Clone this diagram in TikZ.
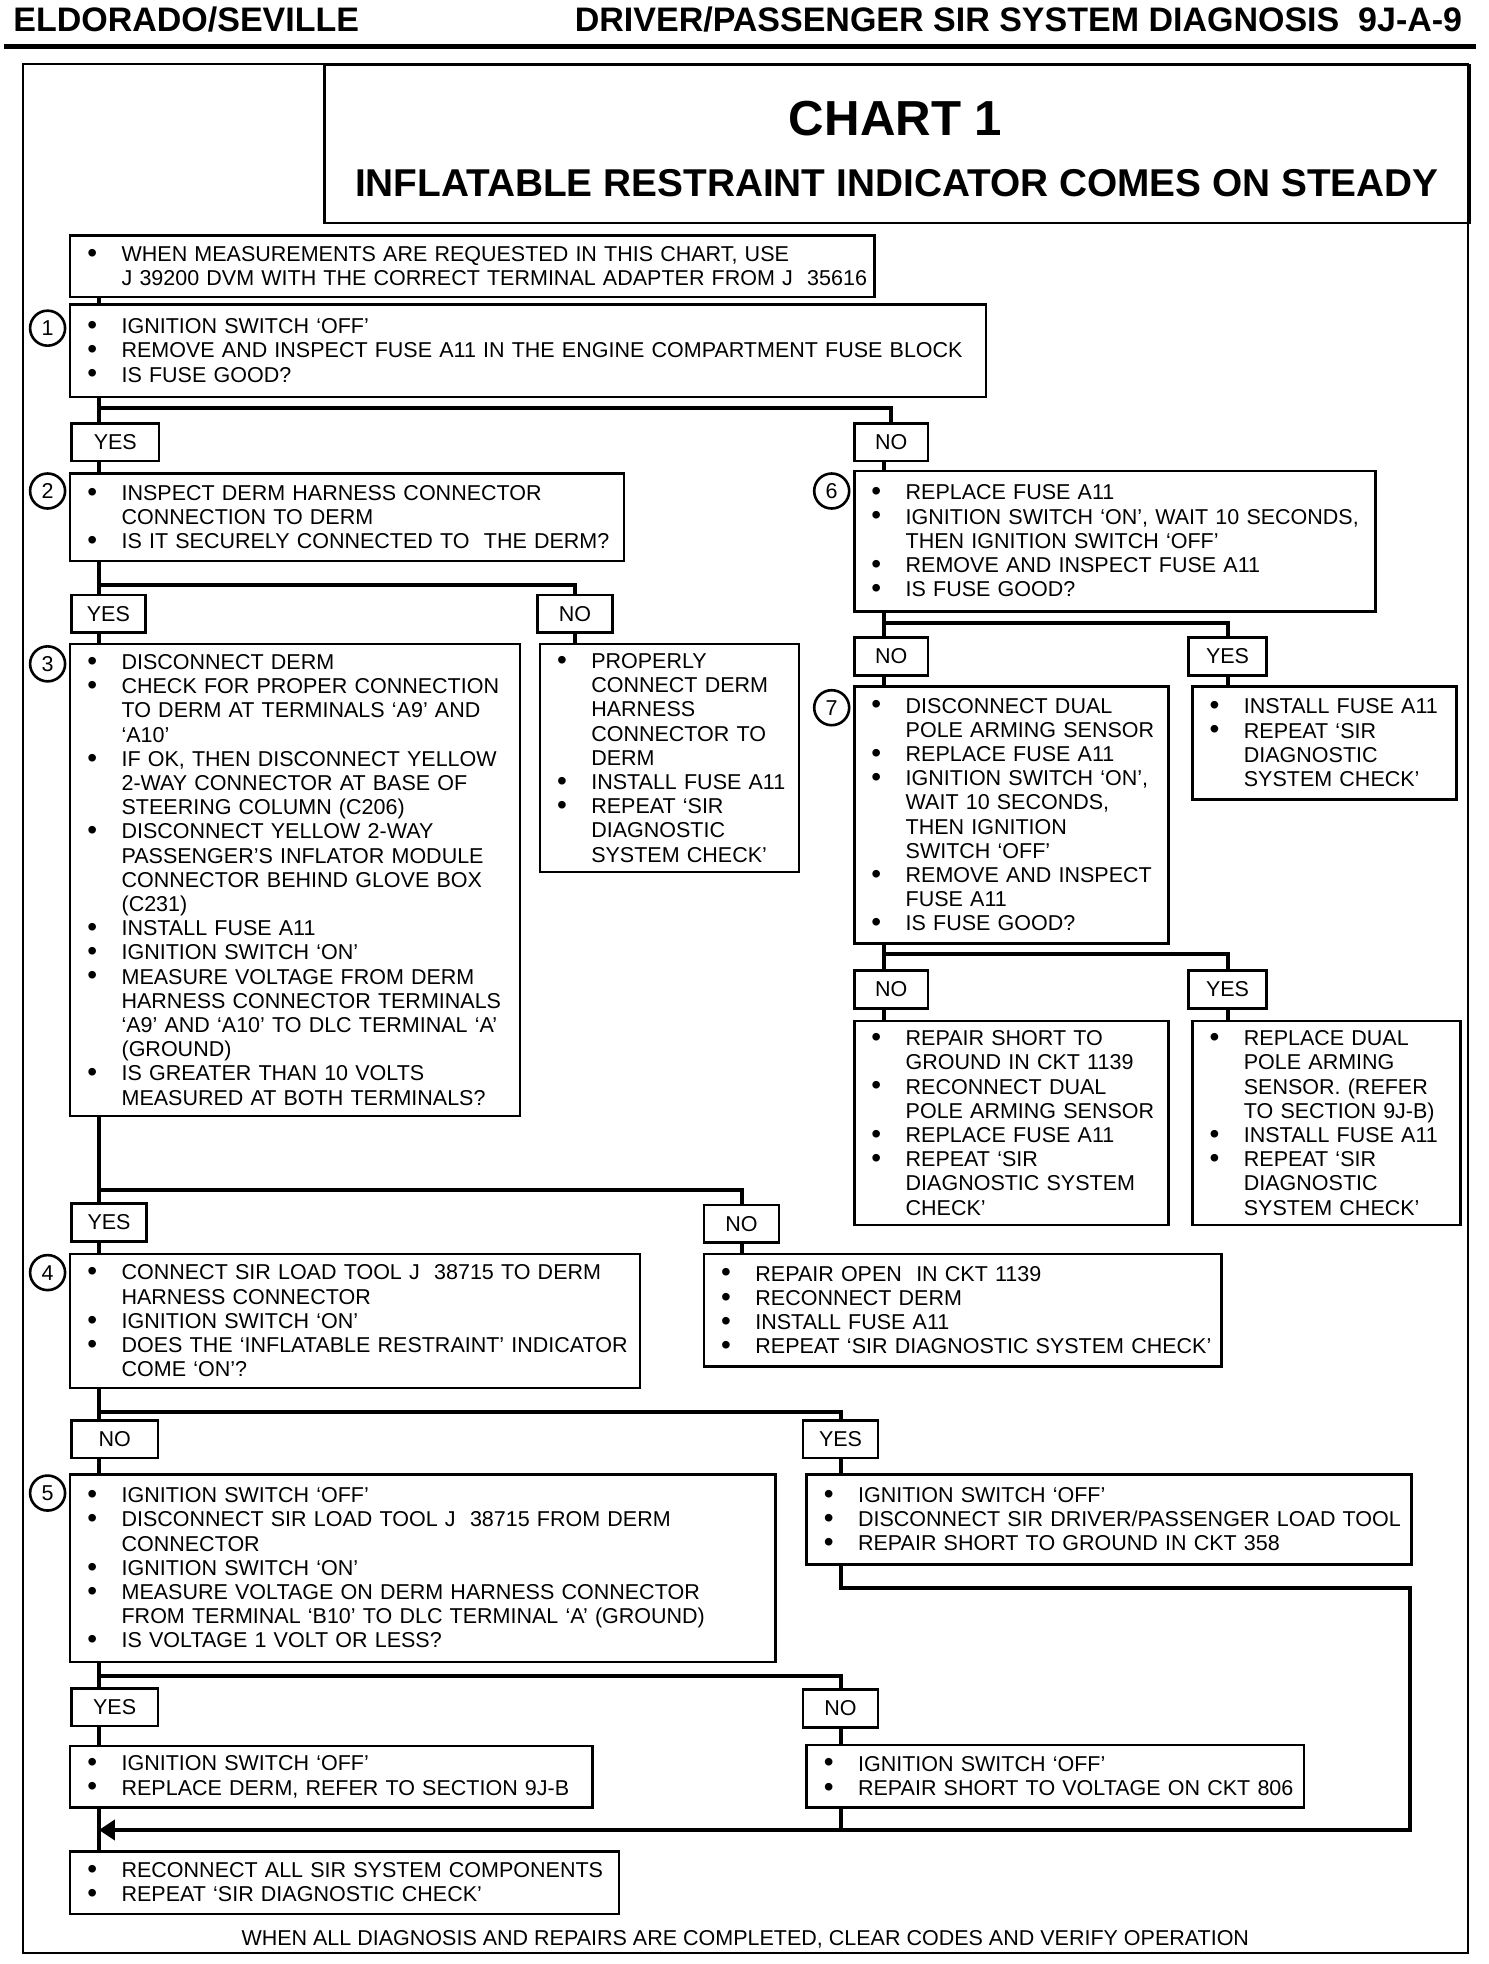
\documentclass[tikz,border=0pt]{standalone}
\usepackage{fontspec}
\setmainfont{Liberation Sans}
\usetikzlibrary{arrows.meta, positioning, calc}
\newcommand{\isi}{\fontsize{10.75}{12.1}\selectfont}
\newcommand{\itm}{\hspace*{6.6pt}\makebox[17.1pt][l]{\raisebox{-0.4pt}{\fontsize{14}{12}\selectfont\textbullet}}}
\newcommand{\ctn}{\hspace*{23.7pt}}

\begin{document}
\begin{tikzpicture}[
    x=0.62626pt, y=-0.62626pt,
    font=\isi,
    kotak/.style={draw, line width=1.3pt, anchor=north west, align=left,
                  inner xsep=2pt, inner ysep=0pt},
    pil/.style={draw, line width=1.3pt, anchor=north west, minimum height=18.8pt,
                inner sep=0pt},
    nomor/.style={circle, draw, line width=1.3pt, minimum size=17.5pt, inner sep=0pt},
    garis/.style={line width=2pt},
    kepala/.style={font=\fontsize{17}{20}\selectfont\bfseries}
  ]
    \useasboundingbox (0,0) rectangle (1188,1568);

    \node[kepala, anchor=base west] (kiri) at (5,25.5) {ELDORADO/SEVILLE};
    \node[kepala, anchor=base east] (kanan) at (1173,25.5)
      {DRIVER/PASSENGER SIR SYSTEM DIAGNOSIS\ \ 9J-A-9};
    \draw[line width=2.8pt] (3,37) -- (1178,37);
    \draw[line width=1pt] (18,51) rectangle (1172,1559);

    \node[draw, line width=1.3pt, anchor=north west, minimum width=572.4pt,
          minimum height=78.9pt] (judul) at (258,51) {};
    \node[font=\fontsize{24.6}{28}\selectfont\bfseries] (chart) at (715,95) {CHART 1};
    \node[font=\fontsize{19.4}{23}\selectfont\bfseries] (subjudul) at (716,146)
      {INFLATABLE RESTRAINT INDICATOR COMES ON STEADY};

    \node[kotak, text width=398.1pt, minimum height=30.7pt] (b0) at (55,187)
      {\itm WHEN MEASUREMENTS ARE REQUESTED IN THIS CHART, USE\\
       \ctn J 39200 DVM WITH THE CORRECT TERMINAL ADAPTER FROM J\ \ 35616};
    \node[kotak, text width=453.8pt, minimum height=46.3pt] (b1) at (55,242)
      {\itm IGNITION SWITCH `OFF'\\
       \itm REMOVE AND INSPECT FUSE A11 IN THE ENGINE COMPARTMENT FUSE BLOCK\\
       \itm IS FUSE GOOD?};
    \node[kotak, text width=272.8pt, minimum height=43.8pt] (b2) at (55,377)
      {\itm INSPECT DERM HARNESS CONNECTOR\\
       \ctn CONNECTION TO DERM\\
       \itm IS IT SECURELY CONNECTED TO\ \ THE DERM?};
    \node[kotak, text width=256.5pt, minimum height=70.1pt] (b6) at (681,375)
      {\itm REPLACE FUSE A11\\
       \itm IGNITION SWITCH `ON', WAIT 10 SECONDS,\\
       \ctn THEN IGNITION SWITCH `OFF'\\
       \itm REMOVE AND INSPECT FUSE A11\\
       \itm IS FUSE GOOD?};
    \node[kotak, text width=220.8pt, minimum height=236.1pt] (b3) at (55,513)
      {\itm DISCONNECT DERM\\
       \itm CHECK FOR PROPER CONNECTION\\
       \ctn TO DERM AT TERMINALS `A9' AND\\
       \ctn `A10'\\
       \itm IF OK, THEN DISCONNECT YELLOW\\
       \ctn 2-WAY CONNECTOR AT BASE OF\\
       \ctn STEERING COLUMN (C206)\\
       \itm DISCONNECT YELLOW 2-WAY\\
       \ctn PASSENGER'S INFLATOR MODULE\\
       \ctn CONNECTOR BEHIND GLOVE BOX\\
       \ctn (C231)\\
       \itm INSTALL FUSE A11\\
       \itm IGNITION SWITCH `ON'\\
       \itm MEASURE VOLTAGE FROM DERM\\
       \ctn HARNESS CONNECTOR TERMINALS\\
       \ctn `A9' AND `A10' TO DLC TERMINAL `A'\\
       \ctn (GROUND)\\
       \itm IS GREATER THAN 10 VOLTS\\
       \ctn MEASURED AT BOTH TERMINALS?};
    \node[kotak, text width=125.6pt, minimum height=114pt] (b2n) at (430,513)
      {\itm PROPERLY\\
       \ctn CONNECT DERM\\
       \ctn HARNESS\\
       \ctn CONNECTOR TO\\
       \ctn DERM\\
       \itm INSTALL FUSE A11\\
       \itm REPEAT `SIR\\
       \ctn DIAGNOSTIC\\
       \ctn SYSTEM CHECK'};
    \node[kotak, text width=153.2pt, minimum height=128.4pt] (b7) at (681,547)
      {\itm DISCONNECT DUAL\\
       \ctn POLE ARMING SENSOR\\
       \itm REPLACE FUSE A11\\
       \itm IGNITION SWITCH `ON',\\
       \ctn WAIT 10 SECONDS,\\
       \ctn THEN IGNITION\\
       \ctn SWITCH `OFF'\\
       \itm REMOVE AND INSPECT\\
       \ctn FUSE A11\\
       \itm IS FUSE GOOD?};
    \node[kotak, text width=128.1pt, minimum height=56.4pt] (b6y) at (951,547)
      {\itm INSTALL FUSE A11\\
       \itm REPEAT `SIR\\
       \ctn DIAGNOSTIC\\
       \ctn SYSTEM CHECK'};
    \node[kotak, text width=153.2pt, minimum height=102.1pt] (b7n) at (681,814)
      {\itm REPAIR SHORT TO\\
       \ctn GROUND IN CKT 1139\\
       \itm RECONNECT DUAL\\
       \ctn POLE ARMING SENSOR\\
       \itm REPLACE FUSE A11\\
       \itm REPEAT `SIR\\
       \ctn DIAGNOSTIC SYSTEM\\
       \ctn CHECK'};
    \node[kotak, text width=130pt, minimum height=102.1pt] (b7y) at (951,814)
      {\itm REPLACE DUAL\\
       \ctn POLE ARMING\\
       \ctn SENSOR. (REFER\\
       \ctn TO SECTION 9J-B)\\
       \itm INSTALL FUSE A11\\
       \itm REPEAT `SIR\\
       \ctn DIAGNOSTIC\\
       \ctn SYSTEM CHECK'};
    \node[kotak, text width=280.9pt, minimum height=67pt] (b4) at (55,1000)
      {\itm CONNECT SIR LOAD TOOL J\ \ 38715 TO DERM\\
       \ctn HARNESS CONNECTOR\\
       \itm IGNITION SWITCH `ON'\\
       \itm DOES THE `INFLATABLE RESTRAINT' INDICATOR\\
       \ctn COME `ON'?};
    \node[kotak, text width=254.6pt, minimum height=56.4pt] (b3n) at (561,1000)
      {\itm REPAIR OPEN\ \ IN CKT 1139\\
       \itm RECONNECT DERM\\
       \itm INSTALL FUSE A11\\
       \itm REPEAT `SIR DIAGNOSTIC SYSTEM CHECK'};
    \node[kotak, text width=348.6pt, minimum height=93.9pt] (b5) at (55,1176)
      {\itm IGNITION SWITCH `OFF'\\
       \itm DISCONNECT SIR LOAD TOOL J\ \ 38715 FROM DERM\\
       \ctn CONNECTOR\\
       \itm IGNITION SWITCH `ON'\\
       \itm MEASURE VOLTAGE ON DERM HARNESS CONNECTOR\\
       \ctn FROM TERMINAL `B10' TO DLC TERMINAL `A' (GROUND)\\
       \itm IS VOLTAGE 1 VOLT OR LESS?};
    \node[kotak, text width=298.5pt, minimum height=45.1pt] (b4y) at (643,1176)
      {\itm IGNITION SWITCH `OFF'\\
       \itm DISCONNECT SIR DRIVER/PASSENGER LOAD TOOL\\
       \itm REPAIR SHORT TO GROUND IN CKT 358};
    \node[kotak, text width=257.1pt, minimum height=30.7pt] (b5y) at (55,1393)
      {\itm IGNITION SWITCH `OFF'\\
       \itm REPLACE DERM, REFER TO SECTION 9J-B};
    \node[kotak, text width=244.6pt, minimum height=31.3pt] (b5n) at (643,1392)
      {\itm IGNITION SWITCH `OFF'\\
       \itm REPAIR SHORT TO VOLTAGE ON CKT 806};
    \node[kotak, text width=270.3pt, minimum height=31.3pt] (bf) at (55,1477)
      {\itm RECONNECT ALL SIR SYSTEM COMPONENTS\\
       \itm REPEAT `SIR DIAGNOSTIC CHECK'};
    \node[anchor=base] (akhir) at (595,1553)
      {WHEN ALL DIAGNOSIS AND REPAIRS ARE COMPLETED, CLEAR CODES AND VERIFY OPERATION};

    \foreach \n/\t/\x/\y in {c1/1/38/262, c2/2/38/392, c3/3/38/530, c4/4/38/1016,
                             c5/5/38/1192, c6/6/664/392, c7/7/664/565} {
      \node[nomor] (\n) at (\x,\y) {\t};
    }

    \foreach \n/\t/\x/\y/\w in {y1/YES/56/337/70, n1/NO/681/337/59, y2/YES/56/474/59,
                                n2/NO/428/474/60, n6/NO/681/508/59, y6/YES/948/508/62,
                                n7/NO/681/774/59, y7/YES/948/774/62, y3/YES/56/960/60,
                                n3/NO/561/961/60, n4/NO/56/1133/69, y4/YES/640/1133/60,
                                y5/YES/56/1347/69, n5/NO/640/1348/60} {
      \node[pil, minimum width=\w*0.62626pt] (\n) at (\x,\y) {\t};
    }

    \coordinate (tl) at (79,0);
    \coordinate (tr) at (706,0);
    \coordinate (j1) at (0,326);
    \coordinate (j2) at (0,467);
    \coordinate (j6) at (0,497);
    \coordinate (j7) at (0,762);
    \coordinate (j3) at (0,950);
    \coordinate (j4) at (0,1127);
    \coordinate (j5) at (0,1338);
    \coordinate (kr) at (1126,1268);
    \coordinate (kb) at (0,1461);

    \draw[garis] (b0.south -| tl) -- (b1.north -| tl);
    \draw[garis] (b1.south -| tl) -- (y1.north -| tl);
    \draw[garis] (j1 -| tl) -| (n1.north);
    \draw[garis] (y1.south -| tl) -- (b2.north -| tl);
    \draw[garis] (n1.south -| tr) -- (b6.north -| tr);

    \draw[garis] (b2.south -| tl) -- (y2.north -| tl);
    \draw[garis] (j2 -| tl) -| (n2.north);
    \draw[garis] (y2.south -| tl) -- (b3.north -| tl);
    \draw[garis] (n2.south) -- (n2.south |- b2n.north);

    \draw[garis] (b6.south -| tr) -- (n6.north -| tr);
    \draw[garis] (j6 -| tr) -| (y6.north);
    \draw[garis] (n6.south -| tr) -- (b7.north -| tr);
    \draw[garis] (y6.south) -- (y6.south |- b6y.north);

    \draw[garis] (b7.south -| tr) -- (n7.north -| tr);
    \draw[garis] (j7 -| tr) -| (y7.north);
    \draw[garis] (n7.south -| tr) -- (b7n.north -| tr);
    \draw[garis] (y7.south) -- (y7.south |- b7y.north);

    \draw[garis] (b3.south -| tl) -- (y3.north -| tl);
    \draw[garis] (j3 -| tl) -| (n3.north);
    \draw[garis] (y3.south -| tl) -- (b4.north -| tl);
    \draw[garis] (n3.south) -- (n3.south |- b3n.north);

    \draw[garis] (b4.south -| tl) -- (n4.north -| tl);
    \draw[garis] (j4 -| tl) -| (y4.north);
    \draw[garis] (n4.south -| tl) -- (b5.north -| tl);
    \draw[garis] (y4.south) -- (y4.south |- b4y.north);

    \draw[garis] (b5.south -| tl) -- (y5.north -| tl);
    \draw[garis] (j5 -| tl) -| (n5.north);
    \draw[garis] (y5.south -| tl) -- (b5y.north -| tl);
    \draw[garis] (n5.south) -- (n5.south |- b5n.north);

    \draw[garis, -{Triangle[length=8pt, width=10pt]}]
      (b4y.south -| y4) |- (kr) |- (kb -| tl);
    \draw[garis] (b5n.south -| n5) -- (kb -| n5);
    \draw[garis] (b5y.south -| tl) -- (bf.north -| tl);
  \end{tikzpicture}
\end{document}
